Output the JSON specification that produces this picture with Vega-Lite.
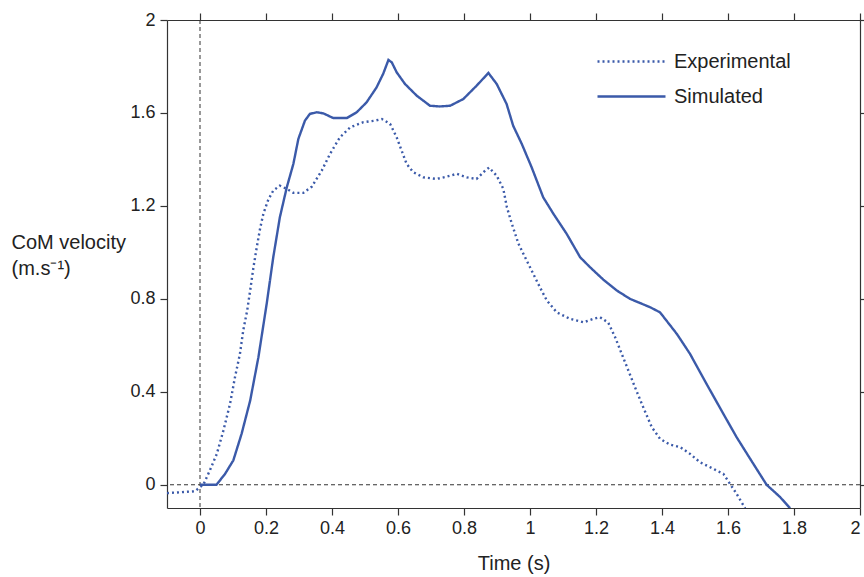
{
  "$schema": "https://vega.github.io/schema/vega-lite/v6.json",
  "width": 693,
  "height": 488,
  "autosize": {"type": "none"},
  "padding": {"left": 167, "top": 20, "right": 4, "bottom": 69},
  "background": "white",
  "config": {
    "view": {"stroke": null},
    "font": "Liberation Sans",
    "axis": {
      "grid": false,
      "domainColor": "#333",
      "tickColor": "#333",
      "labelColor": "#222",
      "titleColor": "#222",
      "labelFont": "Liberation Sans",
      "titleFont": "Liberation Sans",
      "labelFontSize": 18,
      "titleFontSize": 20,
      "titleFontWeight": "normal",
      "tickSize": 7,
      "domainWidth": 1.2,
      "tickWidth": 1.2
    }
  },
  "datasets": {
    "curves": [
      {"t": 0, "v": 0, "s": "Simulated"},
      {"t": 0.05, "v": 0, "s": "Simulated"},
      {"t": 0.076, "v": 0.047, "s": "Simulated"},
      {"t": 0.101, "v": 0.105, "s": "Simulated"},
      {"t": 0.126, "v": 0.219, "s": "Simulated"},
      {"t": 0.152, "v": 0.362, "s": "Simulated"},
      {"t": 0.177, "v": 0.549, "s": "Simulated"},
      {"t": 0.202, "v": 0.778, "s": "Simulated"},
      {"t": 0.222, "v": 0.979, "s": "Simulated"},
      {"t": 0.242, "v": 1.151, "s": "Simulated"},
      {"t": 0.263, "v": 1.28, "s": "Simulated"},
      {"t": 0.283, "v": 1.381, "s": "Simulated"},
      {"t": 0.298, "v": 1.488, "s": "Simulated"},
      {"t": 0.318, "v": 1.567, "s": "Simulated"},
      {"t": 0.333, "v": 1.596, "s": "Simulated"},
      {"t": 0.354, "v": 1.603, "s": "Simulated"},
      {"t": 0.374, "v": 1.598, "s": "Simulated"},
      {"t": 0.404, "v": 1.578, "s": "Simulated"},
      {"t": 0.445, "v": 1.578, "s": "Simulated"},
      {"t": 0.475, "v": 1.603, "s": "Simulated"},
      {"t": 0.505, "v": 1.646, "s": "Simulated"},
      {"t": 0.535, "v": 1.71, "s": "Simulated"},
      {"t": 0.555, "v": 1.768, "s": "Simulated"},
      {"t": 0.571, "v": 1.828, "s": "Simulated"},
      {"t": 0.581, "v": 1.818, "s": "Simulated"},
      {"t": 0.596, "v": 1.775, "s": "Simulated"},
      {"t": 0.621, "v": 1.725, "s": "Simulated"},
      {"t": 0.657, "v": 1.674, "s": "Simulated"},
      {"t": 0.697, "v": 1.631, "s": "Simulated"},
      {"t": 0.727, "v": 1.628, "s": "Simulated"},
      {"t": 0.758, "v": 1.631, "s": "Simulated"},
      {"t": 0.798, "v": 1.66, "s": "Simulated"},
      {"t": 0.838, "v": 1.717, "s": "Simulated"},
      {"t": 0.874, "v": 1.772, "s": "Simulated"},
      {"t": 0.899, "v": 1.725, "s": "Simulated"},
      {"t": 0.929, "v": 1.639, "s": "Simulated"},
      {"t": 0.949, "v": 1.545, "s": "Simulated"},
      {"t": 0.975, "v": 1.467, "s": "Simulated"},
      {"t": 1.005, "v": 1.366, "s": "Simulated"},
      {"t": 1.04, "v": 1.237, "s": "Simulated"},
      {"t": 1.071, "v": 1.166, "s": "Simulated"},
      {"t": 1.111, "v": 1.08, "s": "Simulated"},
      {"t": 1.152, "v": 0.979, "s": "Simulated"},
      {"t": 1.182, "v": 0.936, "s": "Simulated"},
      {"t": 1.222, "v": 0.883, "s": "Simulated"},
      {"t": 1.263, "v": 0.836, "s": "Simulated"},
      {"t": 1.303, "v": 0.8, "s": "Simulated"},
      {"t": 1.364, "v": 0.764, "s": "Simulated"},
      {"t": 1.394, "v": 0.742, "s": "Simulated"},
      {"t": 1.445, "v": 0.649, "s": "Simulated"},
      {"t": 1.485, "v": 0.563, "s": "Simulated"},
      {"t": 1.535, "v": 0.434, "s": "Simulated"},
      {"t": 1.586, "v": 0.305, "s": "Simulated"},
      {"t": 1.626, "v": 0.205, "s": "Simulated"},
      {"t": 1.667, "v": 0.112, "s": "Simulated"},
      {"t": 1.717, "v": 0, "s": "Simulated"},
      {"t": 1.758, "v": -0.053, "s": "Simulated"},
      {"t": 1.788, "v": -0.101, "s": "Simulated"},
      {"t": -0.1, "v": -0.036, "s": "Experimental"},
      {"t": -0.015, "v": -0.028, "s": "Experimental"},
      {"t": 0, "v": -0.01, "s": "Experimental"},
      {"t": 0.01, "v": 0, "s": "Experimental"},
      {"t": 0.03, "v": 0.062, "s": "Experimental"},
      {"t": 0.051, "v": 0.133, "s": "Experimental"},
      {"t": 0.071, "v": 0.234, "s": "Experimental"},
      {"t": 0.091, "v": 0.348, "s": "Experimental"},
      {"t": 0.106, "v": 0.463, "s": "Experimental"},
      {"t": 0.121, "v": 0.563, "s": "Experimental"},
      {"t": 0.131, "v": 0.664, "s": "Experimental"},
      {"t": 0.143, "v": 0.75, "s": "Experimental"},
      {"t": 0.152, "v": 0.836, "s": "Experimental"},
      {"t": 0.162, "v": 0.936, "s": "Experimental"},
      {"t": 0.172, "v": 1.022, "s": "Experimental"},
      {"t": 0.182, "v": 1.102, "s": "Experimental"},
      {"t": 0.192, "v": 1.166, "s": "Experimental"},
      {"t": 0.207, "v": 1.227, "s": "Experimental"},
      {"t": 0.222, "v": 1.266, "s": "Experimental"},
      {"t": 0.242, "v": 1.287, "s": "Experimental"},
      {"t": 0.263, "v": 1.273, "s": "Experimental"},
      {"t": 0.283, "v": 1.256, "s": "Experimental"},
      {"t": 0.313, "v": 1.256, "s": "Experimental"},
      {"t": 0.339, "v": 1.283, "s": "Experimental"},
      {"t": 0.369, "v": 1.352, "s": "Experimental"},
      {"t": 0.394, "v": 1.424, "s": "Experimental"},
      {"t": 0.424, "v": 1.495, "s": "Experimental"},
      {"t": 0.455, "v": 1.538, "s": "Experimental"},
      {"t": 0.495, "v": 1.56, "s": "Experimental"},
      {"t": 0.53, "v": 1.567, "s": "Experimental"},
      {"t": 0.551, "v": 1.574, "s": "Experimental"},
      {"t": 0.576, "v": 1.553, "s": "Experimental"},
      {"t": 0.596, "v": 1.495, "s": "Experimental"},
      {"t": 0.611, "v": 1.438, "s": "Experimental"},
      {"t": 0.626, "v": 1.381, "s": "Experimental"},
      {"t": 0.646, "v": 1.345, "s": "Experimental"},
      {"t": 0.677, "v": 1.323, "s": "Experimental"},
      {"t": 0.717, "v": 1.316, "s": "Experimental"},
      {"t": 0.748, "v": 1.326, "s": "Experimental"},
      {"t": 0.778, "v": 1.338, "s": "Experimental"},
      {"t": 0.808, "v": 1.323, "s": "Experimental"},
      {"t": 0.838, "v": 1.316, "s": "Experimental"},
      {"t": 0.864, "v": 1.352, "s": "Experimental"},
      {"t": 0.876, "v": 1.365, "s": "Experimental"},
      {"t": 0.899, "v": 1.33, "s": "Experimental"},
      {"t": 0.919, "v": 1.274, "s": "Experimental"},
      {"t": 0.93, "v": 1.194, "s": "Experimental"},
      {"t": 0.945, "v": 1.123, "s": "Experimental"},
      {"t": 0.965, "v": 1.037, "s": "Experimental"},
      {"t": 0.985, "v": 0.979, "s": "Experimental"},
      {"t": 1.005, "v": 0.922, "s": "Experimental"},
      {"t": 1.03, "v": 0.85, "s": "Experimental"},
      {"t": 1.051, "v": 0.793, "s": "Experimental"},
      {"t": 1.081, "v": 0.742, "s": "Experimental"},
      {"t": 1.121, "v": 0.714, "s": "Experimental"},
      {"t": 1.162, "v": 0.699, "s": "Experimental"},
      {"t": 1.192, "v": 0.714, "s": "Experimental"},
      {"t": 1.212, "v": 0.721, "s": "Experimental"},
      {"t": 1.237, "v": 0.698, "s": "Experimental"},
      {"t": 1.258, "v": 0.635, "s": "Experimental"},
      {"t": 1.278, "v": 0.563, "s": "Experimental"},
      {"t": 1.298, "v": 0.492, "s": "Experimental"},
      {"t": 1.318, "v": 0.42, "s": "Experimental"},
      {"t": 1.343, "v": 0.334, "s": "Experimental"},
      {"t": 1.369, "v": 0.248, "s": "Experimental"},
      {"t": 1.394, "v": 0.198, "s": "Experimental"},
      {"t": 1.424, "v": 0.173, "s": "Experimental"},
      {"t": 1.455, "v": 0.162, "s": "Experimental"},
      {"t": 1.485, "v": 0.133, "s": "Experimental"},
      {"t": 1.515, "v": 0.097, "s": "Experimental"},
      {"t": 1.555, "v": 0.069, "s": "Experimental"},
      {"t": 1.586, "v": 0.047, "s": "Experimental"},
      {"t": 1.606, "v": 0.004, "s": "Experimental"},
      {"t": 1.626, "v": -0.039, "s": "Experimental"},
      {"t": 1.652, "v": -0.101, "s": "Experimental"}
    ]
  },
  "layer": [
    {
      "data": {"values": [{"x": 0}]},
      "mark": {"type": "rule", "strokeDash": [4, 3], "color": "#333", "strokeWidth": 1},
      "encoding": {
        "x": {
          "field": "x", "type": "quantitative",
          "scale": {"domain": [-0.1, 2], "nice": false, "zero": false},
          "axis": {"orient": "top", "values": [0, 0.2, 0.4, 0.6, 0.8, 1, 1.2, 1.4, 1.6, 1.8, 2], "labels": false, "title": null}
        }
      }
    },
    {
      "data": {"values": [{"y": 0}]},
      "mark": {"type": "rule", "strokeDash": [4, 3], "color": "#333", "strokeWidth": 1},
      "encoding": {
        "y": {
          "field": "y", "type": "quantitative",
          "scale": {"domain": [-0.1, 2], "nice": false, "zero": false},
          "axis": {"orient": "right", "values": [0, 0.4, 0.8, 1.2, 1.6, 2], "labels": false, "title": null}
        }
      }
    },
    {
      "data": {"name": "curves"},
      "mark": {"type": "line", "strokeWidth": 2.4, "color": "#3b5aa9", "clip": true},
      "encoding": {
        "x": {
          "field": "t", "type": "quantitative",
          "scale": {"domain": [-0.1, 2], "nice": false, "zero": false},
          "axis": {
            "orient": "bottom",
            "values": [0, 0.2, 0.4, 0.6, 0.8, 1, 1.2, 1.4, 1.6, 1.8, 2],
            "format": "~g",
            "title": "Time (s)",
            "labelPadding": 4,
            "titleY": 61,
            "titleBaseline": "alphabetic"
          }
        },
        "y": {
          "field": "v", "type": "quantitative",
          "scale": {"domain": [-0.1, 2], "nice": false, "zero": false},
          "axis": {
            "orient": "left",
            "values": [0, 0.4, 0.8, 1.2, 1.6, 2],
            "format": "~g",
            "title": ["CoM velocity", "(m.s⁻¹)"],
            "titleAngle": 0,
            "titleAlign": "left",
            "titleBaseline": "alphabetic",
            "titleX": -156,
            "titleY": 228,
            "titleLineHeight": 26,
            "labelPadding": 5
          }
        },
        "strokeDash": {
          "field": "s", "type": "nominal",
          "scale": {"domain": ["Experimental", "Simulated"], "range": [[2, 3], [1, 0]]},
          "legend": {
            "title": null,
            "orient": "none",
            "legendX": 429,
            "legendY": 25,
            "padding": 0,
            "symbolType": "stroke",
            "symbolSize": 4624,
            "symbolStrokeWidth": 2.5,
            "symbolStrokeColor": "#3b5aa9",
            "labelFontSize": 20,
            "labelFont": "Liberation Sans",
            "labelColor": "#222",
            "labelOffset": 7,
            "clipHeight": 33,
            "rowPadding": 2
          }
        }
      }
    }
  ],
  "resolve": {"axis": {"x": "independent", "y": "independent"}}
}
